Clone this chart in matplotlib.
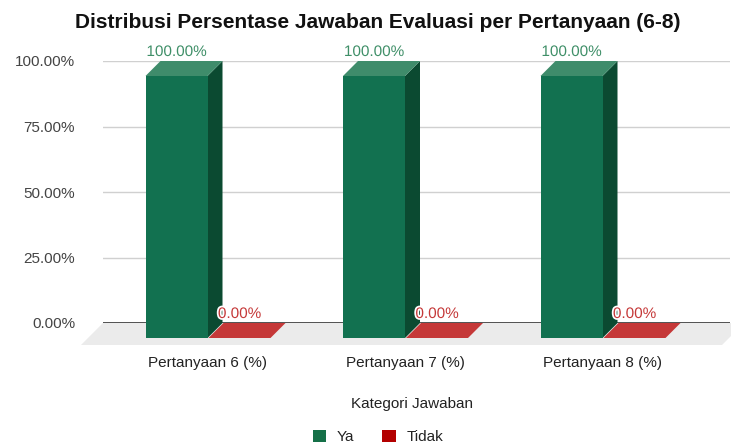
import matplotlib
matplotlib.use("Agg")
import matplotlib.pyplot as plt
from matplotlib.patches import Polygon, Rectangle, Patch
import matplotlib.patheffects as pe

categories = ["Pertanyaan 6 (%)", "Pertanyaan 7 (%)", "Pertanyaan 8 (%)"]
series_names = ["Ya", "Tidak"]
ya_values = [100.0, 100.0, 100.0]
tidak_values = [0.0, 0.0, 0.0]
yticks = [0, 25, 50, 75, 100]
title = "Distribusi Persentase Jawaban Evaluasi per Pertanyaan (6-8)"
xlabel = "Kategori Jawaban"

plt.rcParams['font.family'] = ['Liberation Sans', 'DejaVu Sans']

W, H, DPI = 731, 446, 100
fig = plt.figure(figsize=(W / DPI, H / DPI), dpi=DPI)

# axes = back plane of the 3D box (pixels)
ax_left, ax_right, ax_top, ax_bot = 103, 730, 61, 323
ax = fig.add_axes([ax_left / W, 1 - ax_bot / H, (ax_right - ax_left) / W, (ax_bot - ax_top) / H])

unit_px = 197.5
x0_px = 119.5  # group 0 back-center offset from axes left
xmin = -x0_px / unit_px
xmax = (ax_right - ax_left - x0_px) / unit_px
ax.set_xlim(xmin, xmax)
ax.set_ylim(0, 100)

px_x = unit_px                      # pixels per x data unit
px_y = (ax_bot - ax_top) / 100.0    # pixels per y data unit

def off(dpx):
    return dpx / px_x, dpx / px_y

depth = 15
ddx, ddy = off(depth)
fdx, fdy = off(22)

for s in ax.spines.values():
    s.set_visible(False)
ax.set_yticks(yticks)
ax.set_yticklabels([f"{v:.2f}%" for v in yticks])
ax.tick_params(axis='y', length=0, pad=20, labelsize=11, labelcolor='#444444')
ax.set_xticks([])
for v in yticks[1:]:
    ax.axhline(v, color='#d0d0d0', lw=1, zorder=1)
ax.axhline(0, color='#333333', lw=1.2, zorder=2)

# floor
floor = Polygon([(xmin, 0), (xmax + 14 / px_x, 0), (xmax + 14 / px_x - fdx, -fdy), (xmin - fdx, -fdy)],
                closed=True, facecolor='#ebebeb', edgecolor='none', clip_on=False, zorder=0.5)
ax.add_patch(floor)

bar_w = 62 / px_x
gap = 1 / px_x
colors = {
    "Ya": dict(front='#127150', side='#0b4a31', top='#3f8c6b', label='#3f8f68', legend='#157048'),
    "Tidak": dict(front='#c53838', side='#8f2525', top='#c53838', label='#c53838', legend='#b30000'),
}

def draw_bar(xb, v, c, z):
    # back-plane coordinates: x in [xb, xb+bar_w], y in [0, v]; front shifted by (-ddx, -ddy)
    x1 = xb + bar_w
    front = Rectangle((xb - ddx, -ddy), bar_w, v, facecolor=c['front'], edgecolor='none', clip_on=False, zorder=z + 0.2)
    side = Polygon([(x1 - ddx, -ddy), (x1 - ddx, v - ddy), (x1, v), (x1, 0)], closed=True,
                   facecolor=c['side'], edgecolor='none', clip_on=False, zorder=z + 0.1)
    top = Polygon([(xb - ddx, v - ddy), (x1 - ddx, v - ddy), (x1, v), (xb, v)], closed=True,
                  facecolor=c['top'], edgecolor='none', clip_on=False, zorder=z + 0.3)
    if v > 0:
        ax.add_patch(front)
        ax.add_patch(side)
    ax.add_patch(top)
    ax.text(xb + bar_w / 2 - ddx, v + 2 / px_y, f"{v:.2f}%", ha='center', va='bottom',
            color=c['label'], fontsize=11, zorder=10, clip_on=False,
            path_effects=[pe.withStroke(linewidth=2.5, foreground='white')])

for i in range(len(categories)):
    draw_bar(i + gap, tidak_values[i], colors["Tidak"], 3)
    draw_bar(i - bar_w, ya_values[i], colors["Ya"], 4)
    ax.text(i - ddx, -ddy - 25 / px_y, categories[i], ha='center', va='center',
            fontsize=11, color='#222222', clip_on=False)

fig.text(378 / W, 1 - 22 / H, title, ha='center', va='center', fontsize=15, fontweight='bold', color='#111111')
fig.text(412 / W, 1 - 404 / H, xlabel, ha='center', va='center', fontsize=11, color='#222222')

# legend
handles = [Patch(facecolor=colors[n]['legend'], edgecolor='none', label=n) for n in series_names]
fig.legend(handles=handles, loc='center', bbox_to_anchor=(378 / W, 1 - 437 / H), ncol=2, frameon=False,
           fontsize=11, handlelength=0.9, handleheight=0.9, columnspacing=1.8, handletextpad=0.7,
           labelcolor='#222222')

fig.savefig("out.png", dpi=DPI)
